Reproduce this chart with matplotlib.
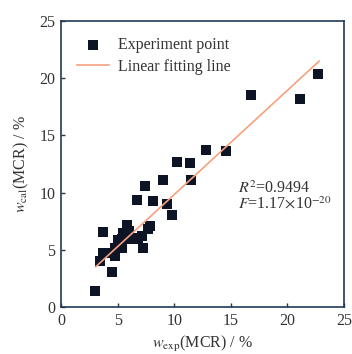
import numpy as np
import matplotlib
matplotlib.use("Agg")
import matplotlib.pyplot as plt

plt.rcParams['font.family'] = ['Liberation Serif', 'DejaVu Serif']
plt.rcParams['mathtext.fontset'] = 'stix'

# experimental vs calculated (%)
w_exp = [3.0, 4.53, 3.68, 3.44, 3.74, 4.03, 4.18, 4.76, 4.76, 5.06, 5.35, 5.35,
         5.65, 5.79, 5.94, 6.24, 6.53, 6.82, 7.12, 7.26, 7.7, 7.9, 5.0, 5.5,
         6.0, 6.74, 7.41, 8.09, 9.03, 9.38, 9.82, 10.26, 11.38, 11.44, 12.79,
         14.56, 16.76, 21.09, 22.7]
w_cal = [1.42, 3.02, 6.59, 4.03, 4.7, 4.75, 4.76, 4.47, 5.2, 5.63, 5.2, 5.92,
         6.36, 7.14, 5.92, 6.06, 5.92, 6.06, 6.21, 5.2, 6.79, 7.08, 5.9, 6.5,
         6.6, 9.32, 10.56, 9.26, 11.14, 8.97, 8.07, 12.68, 12.59, 11.08, 13.73,
         13.64, 18.57, 18.22, 20.4]

fit_slope = 0.911
fit_intercept = 0.72
fit_x = [3.06, 22.8]
r2_text = r'$R^2$=0.9494'
f_text = r'$F$=1.17$\times$10$^{-20}$'

fig = plt.figure(figsize=(3.52, 3.54), dpi=100)
ax = fig.add_axes([61/352, 1-307/354, (344-61)/352, (307-21)/354])

ax.scatter(w_exp, w_cal, marker='s', s=48, color='#0d1426', zorder=3,
           label='Experiment point', linewidths=0)
fx = np.array(fit_x)
ax.plot(fx, fit_slope*fx + fit_intercept, color='#f6a07e', lw=1.2, zorder=4,
        label='Linear fitting line')

ax.set_xlim(0, 25)
ax.set_ylim(0, 25)
ax.set_xticks([0, 5, 10, 15, 20, 25])
ax.set_yticks([0, 5, 10, 15, 20, 25])
ax.tick_params(direction='in', length=3, width=1, labelsize=11.5, colors='#333333',
               labelcolor='#333333', pad=4)
for s in ax.spines.values():
    s.set_color('#1f3a5a')
    s.set_linewidth(1.2)

ax.set_xlabel(r'$w_{\rm exp}$(MCR) / %', fontsize=11.5, color='#333333', labelpad=4)
ax.set_ylabel(r'$w_{\rm cal}$(MCR) / %', fontsize=11.5, color='#333333', labelpad=6)

ax.text(15.6, 10.0, r2_text, fontsize=11.5, color='#333333')
ax.text(15.6, 8.6, f_text, fontsize=11.5, color='#333333')

leg = ax.legend(loc='upper left', frameon=False, fontsize=11.5, handlelength=2.0,
                borderaxespad=0.0, handletextpad=0.55, labelspacing=0.35,
                bbox_to_anchor=(0.035, 0.965))
for t in leg.get_texts():
    t.set_color('#333333')

fig.savefig('out.png', dpi=100)
